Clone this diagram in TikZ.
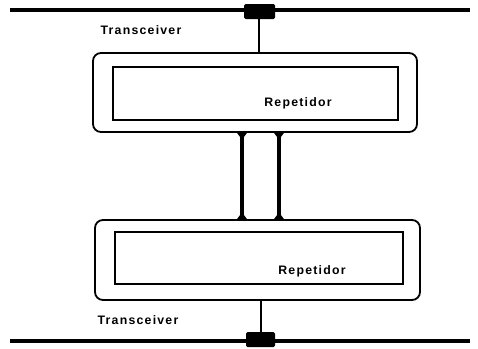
\documentclass[tikz,border=0pt]{standalone}
\usepackage{fontspec}
\setmainfont{Liberation Sans}
\newfontfamily\lblfont[LetterSpace=10]{Liberation Sans}
\usetikzlibrary{calc}
\begin{document}
\begin{tikzpicture}[x=1pt,y=-1pt,
  bus/.style={line width=3.8pt},
  xcvr/.style={fill=black, rounded corners=1.5pt, inner sep=0pt},
  outerbox/.style={draw, line width=1.8pt, rounded corners=8pt, inner sep=0pt},
  innerbox/.style={draw, line width=1.4pt, inner sep=0pt},
  drop/.style={line width=1.8pt},
  link/.style={line width=3.6pt},
  lbl/.style={font=\lblfont\fontsize{12.3}{14}\selectfont\bfseries, inner sep=0pt}]
\useasboundingbox (0,0) rectangle (478,348);
% buses
\coordinate (b1l) at (10,10); \coordinate (b1r) at (470,10);
\coordinate (b2l) at (10,341); \coordinate (b2r) at (470,341);
\draw[bus] (b1l) -- (b1r);
\draw[bus] (b2l) -- (b2r);
% transceivers
\node[xcvr, minimum width=31, minimum height=15] (t1) at (259.5,11.5) {};
\node[xcvr, minimum width=29, minimum height=15] (t2) at (260.5,339.5) {};
% repeaters
\node[outerbox, minimum width=324, minimum height=79] (r1) at (255,92.5) {};
\node[innerbox, minimum width=285, minimum height=53] (i1) at (255.5,93.5) {};
\node[outerbox, minimum width=325, minimum height=80] (r2) at (257.5,260) {};
\node[innerbox, minimum width=288, minimum height=52] (i2) at (259,258) {};
% labels
\node[lbl] (l1) at (298,103) {Repetidor};
\node[lbl] (l2) at (312,271) {Repetidor};
\node[lbl] (tx1) at (141,30) {Transceiver};
\node[lbl] (tx2) at (138,320) {Transceiver};
% drops
\coordinate (d1) at (259,0);
\coordinate (d2) at (261,0);
\draw[drop] (t1.south -| d1) -- (r1.north -| d1);
\draw[drop] (r2.south -| d2) -- (t2.north -| d2);
% links between repeaters
\coordinate (c1) at (242,0);
\coordinate (c2) at (279,0);
\draw[link] (r1.south -| c1) -- (r2.north -| c1);
\draw[link] (r1.south -| c2) -- (r2.north -| c2);
\foreach \c in {c1,c2}{
  \fill ($(r1.south -| \c)+(-5,0)$) -- ($(r1.south -| \c)+(5,0)$) -- ($(r1.south -| \c)+(2,4)$) -- ($(r1.south -| \c)+(-2,4)$) -- cycle;
  \fill ($(r2.north -| \c)+(-5,0)$) -- ($(r2.north -| \c)+(5,0)$) -- ($(r2.north -| \c)+(2,-4)$) -- ($(r2.north -| \c)+(-2,-4)$) -- cycle;
}
\end{tikzpicture}
\end{document}
